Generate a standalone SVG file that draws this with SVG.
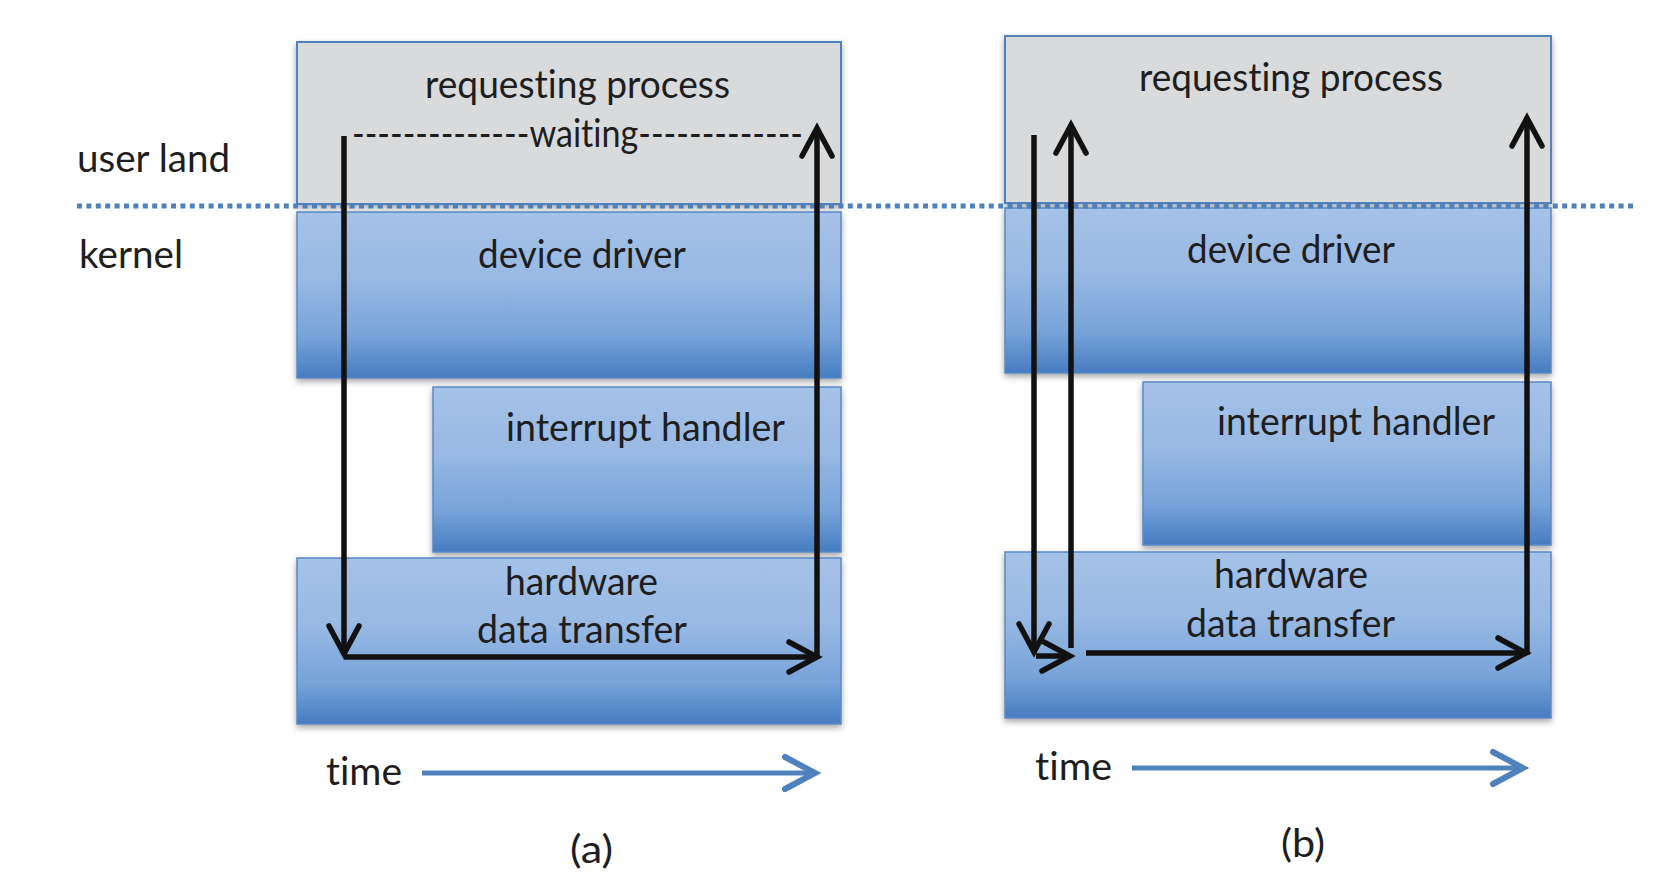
<svg xmlns="http://www.w3.org/2000/svg" width="1668" height="894" viewBox="0 0 1668 894">
  <style>
    .lbl { font-family: Lato, "Open Sans", "Liberation Sans", sans-serif; font-size: 38px; fill: #1e1e1e; font-variant-ligatures: none; font-feature-settings: "liga" 0, "clig" 0; }
    .grey { fill: #d9dadc; stroke: #4f81bd; stroke-width: 2; }
    .blue { fill: url(#blueGrad); stroke: #5a89c5; stroke-width: 1.5; }
    .flow { fill: none; stroke: #111; stroke-width: 5.5; stroke-linecap: butt; }
    .time { fill: none; stroke: #4f81bd; stroke-width: 5; }
    .divider { fill: none; stroke: #4f81bd; stroke-width: 5; stroke-dasharray: 5 4.4; }
  </style>
  <defs>
    <linearGradient id="blueGrad" x1="0" y1="0" x2="0" y2="1">
      <stop offset="0" stop-color="#a5c2e8"/>
      <stop offset="0.4" stop-color="#98b9e3"/>
      <stop offset="0.75" stop-color="#77a3d9"/>
      <stop offset="1" stop-color="#477cc1"/>
    </linearGradient>
    <filter id="shadow" x="-5%" y="-5%" width="110%" height="115%">
      <feDropShadow dx="0" dy="3" stdDeviation="3" flood-color="#000" flood-opacity="0.35"/>
    </filter>
    <marker id="head" markerUnits="userSpaceOnUse" viewBox="-34 -20 40 40" markerWidth="40" markerHeight="40" refX="0" refY="0" orient="auto">
      <path d="M -28 -15 L 0 0 L -28 15" fill="none" stroke="#111" stroke-width="5.5" stroke-linejoin="miter" stroke-linecap="round"/>
    </marker>
    <marker id="timeHead" markerUnits="userSpaceOnUse" viewBox="-36 -20 42 40" markerWidth="42" markerHeight="40" refX="0" refY="0" orient="auto">
      <path d="M -30 -16 L 0 0 L -30 16" fill="none" stroke="#4f81bd" stroke-width="6" stroke-linejoin="miter" stroke-linecap="round"/>
    </marker>
  </defs>

  <rect width="1668" height="894" fill="#ffffff"/>

  <!-- layer labels -->
  <g id="label-userland"><text class="lbl" x="77" y="172" textLength="153" lengthAdjust="spacingAndGlyphs">user land</text></g>
  <g id="label-kernel"><text class="lbl" x="79" y="268" textLength="104" lengthAdjust="spacingAndGlyphs">kernel</text></g>

  <!-- panel (a) -->
  <g id="a-requesting-process">
    <rect class="grey" x="297" y="42" width="544" height="162" filter="url(#shadow)"/>
    <text class="lbl" x="425" y="98" textLength="305" lengthAdjust="spacingAndGlyphs">requesting process</text>
    <text class="lbl" x="352" y="147" textLength="451" lengthAdjust="spacingAndGlyphs">--------------waiting-------------</text>
  </g>
  <g id="a-device-driver">
    <rect class="blue" x="297" y="212" width="544" height="166" filter="url(#shadow)"/>
    <text class="lbl" x="478" y="268" textLength="208" lengthAdjust="spacingAndGlyphs">device driver</text>
  </g>
  <g id="a-interrupt-handler">
    <rect class="blue" x="433" y="387" width="408" height="165" filter="url(#shadow)"/>
    <text class="lbl" x="506" y="441" textLength="279" lengthAdjust="spacingAndGlyphs">interrupt handler</text>
  </g>
  <g id="a-hardware">
    <rect class="blue" x="297" y="558" width="544" height="166" filter="url(#shadow)"/>
    <text class="lbl" x="505" y="595" textLength="153" lengthAdjust="spacingAndGlyphs">hardware</text>
    <text class="lbl" x="477" y="643" textLength="210" lengthAdjust="spacingAndGlyphs">data transfer</text>
  </g>
  <g id="a-time-label"><text class="lbl" x="326" y="785" textLength="76" lengthAdjust="spacingAndGlyphs">time</text></g>
  <g id="a-caption"><text class="lbl" x="570" y="863" textLength="43" lengthAdjust="spacingAndGlyphs">(a)</text></g>

  <!-- panel (b) -->
  <g id="b-requesting-process">
    <rect class="grey" x="1005" y="36" width="546" height="167" filter="url(#shadow)"/>
    <text class="lbl" x="1139" y="91" textLength="304" lengthAdjust="spacingAndGlyphs">requesting process</text>
  </g>
  <g id="b-device-driver">
    <rect class="blue" x="1005" y="208" width="546" height="165" filter="url(#shadow)"/>
    <text class="lbl" x="1187" y="263" textLength="208" lengthAdjust="spacingAndGlyphs">device driver</text>
  </g>
  <g id="b-interrupt-handler">
    <rect class="blue" x="1143" y="382" width="408" height="163" filter="url(#shadow)"/>
    <text class="lbl" x="1217" y="435" textLength="278" lengthAdjust="spacingAndGlyphs">interrupt handler</text>
  </g>
  <g id="b-hardware">
    <rect class="blue" x="1005" y="552" width="546" height="166" filter="url(#shadow)"/>
    <text class="lbl" x="1214" y="588" textLength="154" lengthAdjust="spacingAndGlyphs">hardware</text>
    <text class="lbl" x="1186" y="637" textLength="209" lengthAdjust="spacingAndGlyphs">data transfer</text>
  </g>
  <g id="b-time-label"><text class="lbl" x="1035" y="780" textLength="77" lengthAdjust="spacingAndGlyphs">time</text></g>
  <g id="b-caption"><text class="lbl" x="1281" y="857" textLength="44" lengthAdjust="spacingAndGlyphs">(b)</text></g>

  <!-- user/kernel boundary -->
  <g id="boundary">
    <line class="divider" x1="77" y1="206" x2="1636" y2="206"/>
  </g>

  <!-- connectors -->
  <g id="connectors">
    <!-- (a) -->
    <line class="flow" x1="344" y1="136" x2="344" y2="654" marker-end="url(#head)"/>
    <line class="flow" x1="344" y1="657" x2="817" y2="657" marker-end="url(#head)"/>
    <line class="flow" x1="817" y1="659" x2="817" y2="128" marker-end="url(#head)"/>
    <line class="time" x1="422" y1="773" x2="815" y2="773" marker-end="url(#timeHead)"/>
    <!-- (b) -->
    <line class="flow" x1="1034" y1="135" x2="1034" y2="652" marker-end="url(#head)"/>
    <line class="flow" x1="1036" y1="656" x2="1070" y2="656" marker-end="url(#head)"/>
    <line class="flow" x1="1071" y1="648" x2="1071" y2="125" marker-end="url(#head)"/>
    <line class="flow" x1="1086" y1="653" x2="1526" y2="653" marker-end="url(#head)"/>
    <line class="flow" x1="1527" y1="655" x2="1527" y2="118" marker-end="url(#head)"/>
    <line class="time" x1="1132" y1="768" x2="1523" y2="768" marker-end="url(#timeHead)"/>
  </g>
</svg>
